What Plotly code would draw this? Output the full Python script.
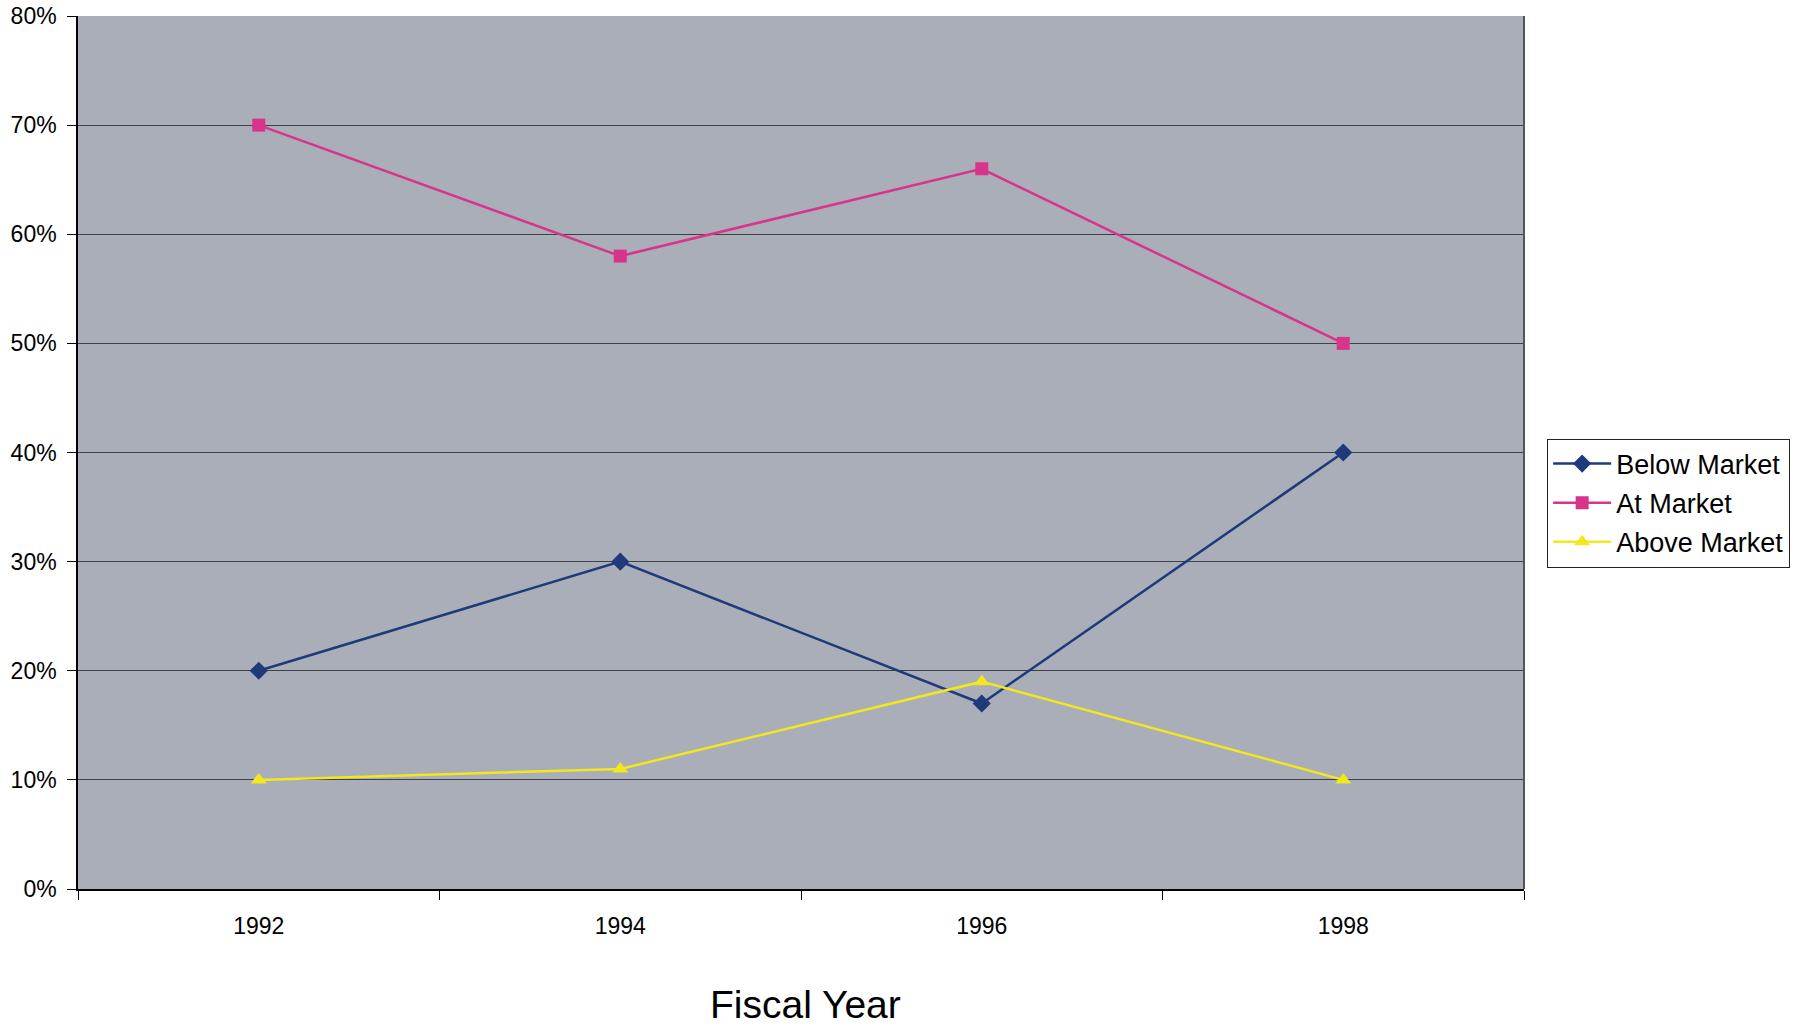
import plotly.graph_objects as go

years = ["1992", "1994", "1996", "1998"]
below_market = [20, 30, 17, 40]
at_market = [70, 58, 66, 50]
above_market = [10, 11, 19, 10]
y_ticks = [0, 10, 20, 30, 40, 50, 60, 70, 80]
y_tick_labels = [f"{v}%" for v in y_ticks]

fig = go.Figure()
fig.add_trace(go.Scatter(x=years, y=below_market, name="Below Market", mode="lines+markers",
                         legendgroup="a",
                         line=dict(color="#1F3A7A", width=2.5),
                         marker=dict(symbol="diamond", size=14, color="#1F3A7A")))
fig.add_trace(go.Scatter(x=years, y=at_market, name="At Market", mode="lines+markers",
                         legendgroup="b",
                         line=dict(color="#D8358A", width=2.5),
                         marker=dict(symbol="square", size=13, color="#D8358A")))
fig.add_trace(go.Scatter(x=years, y=above_market, name="Above Market", mode="lines+markers",
                         legendgroup="c",
                         line=dict(color="#F2E81C", width=2.5),
                         marker=dict(symbol="triangle-up", size=14, color="#F2E81C")))

fig.update_layout(
    width=1797, height=1029,
    margin=dict(l=78, r=273, t=16, b=140, autoexpand=False),
    paper_bgcolor="white",
    plot_bgcolor="#A9AEB9",
    font=dict(family="Liberation Sans, Arial, sans-serif", color="black", size=23),
    showlegend=True,
    legend=dict(x=1.016, y=0.516, xanchor="left", yanchor="top",
                bordercolor="#222", borderwidth=1, bgcolor="white",
                font=dict(size=27), tracegroupgap=1, itemwidth=58),
    xaxis=dict(type="category", tickson="boundaries", ticks="outside", ticklen=9,
               tickcolor="black", linecolor="black", linewidth=1.5, showgrid=False,
               range=[-0.5, 3.5], tickfont=dict(size=23), automargin=False,
               ticklabelstandoff=16),
    yaxis=dict(range=[0, 80], tickvals=y_ticks, ticktext=y_tick_labels,
               ticks="outside", ticklen=9, tickcolor="black",
               linecolor="black", linewidth=1.5, showgrid=True, gridcolor="#3E4148",
               gridwidth=1, tickfont=dict(size=23), zeroline=False, automargin=False,
               ticklabelstandoff=6, ticklabeloverflow="allow"),
    annotations=[dict(text="Fiscal Year", xref="paper", yref="paper", x=0.503, y=-0.132,
                      xanchor="center", yanchor="middle", showarrow=False,
                      font=dict(size=39))],
    shapes=[dict(type="line", xref="paper", yref="paper", x0=1, x1=1, y0=0, y1=1,
                 line=dict(color="#555", width=2))],
)

fig.write_html("out.html", config={"displayModeBar": False},
               post_script="document.body.style.margin='0';document.body.style.overflow='hidden';")
